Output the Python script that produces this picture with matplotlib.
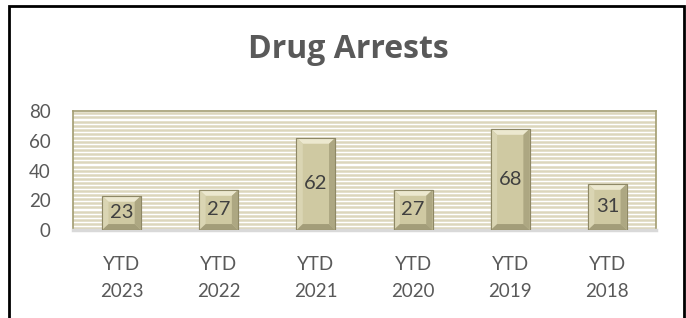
import numpy as np
import matplotlib.pyplot as plt
from matplotlib.patches import Rectangle, Polygon

categories = ["YTD\n2023", "YTD\n2022", "YTD\n2021", "YTD\n2020", "YTD\n2019", "YTD\n2018"]
arrests = [23, 27, 62, 27, 68, 31]
yticks = [0, 20, 40, 60, 80]

plt.rcParams['font.family'] = ['Lato', 'DejaVu Sans']
text_gray = "#595959"

fig = plt.figure(figsize=(6.86, 3.18), dpi=100)
fig.patches.append(Rectangle((9 / 686, -0.05), 675 / 686, 1 - 6 / 318 + 0.05,
                             transform=fig.transFigure, fill=False,
                             edgecolor="black", linewidth=2))
fig.text(348 / 686, 1 - 50 / 318, "Drug Arrests", ha="center", va="center",
         fontsize=23, fontweight="bold", color=text_gray,
         family=["Open Sans", "DejaVu Sans"])

ax = fig.add_axes([73 / 686, 88 / 318, 583 / 686, 119 / 318])
x = np.arange(len(arrests))

# striped background
for yy in np.arange(1.4, 80, 2.75):
    ax.axhline(yy, color="#DCD6BC", linewidth=1.8, zorder=0)

bars = ax.bar(x, arrests, width=0.4, color="#CFC9A2", edgecolor="#9C9674",
              linewidth=0.8, zorder=3)

# bevel effect
bx, by = 0.065, 4.0
for b in bars:
    x0, y0, w, h = b.get_x(), b.get_y(), b.get_width(), b.get_height()
    x1, y1 = x0 + w, y0 + h
    ix0, ix1, iy0, iy1 = x0 + bx, x1 - bx, y0 + by, y1 - by
    ax.add_patch(Polygon([(x0, y1), (x1, y1), (ix1, iy1), (ix0, iy1)],
                         facecolor="#ECE8CF", edgecolor="none", zorder=4))
    ax.add_patch(Polygon([(x0, y0), (x0, y1), (ix0, iy1), (ix0, iy0)],
                         facecolor="#DAD5B3", edgecolor="none", zorder=4))
    ax.add_patch(Polygon([(x1, y0), (x1, y1), (ix1, iy1), (ix1, iy0)],
                         facecolor="#ADA782", edgecolor="none", zorder=4))
    ax.add_patch(Polygon([(x0, y0), (x1, y0), (ix1, iy0), (ix0, iy0)],
                         facecolor="#A39D79", edgecolor="none", zorder=4))
    ax.add_patch(Rectangle((x0, y0), w, h, fill=False, edgecolor="#8E8866",
                           linewidth=0.8, zorder=5))

for xi, v in zip(x, arrests):
    ax.text(xi, v / 2, str(v), ha="center", va="center", fontsize=14.5,
            color="#404040", zorder=6)

ax.set_xlim(-0.5, len(arrests) - 0.5)
ax.set_ylim(0, 80)
ax.set_yticks(yticks)
ax.set_xticks(x)
ax.set_xticklabels(categories, fontsize=13.5, color=text_gray, linespacing=1.7)
ax.tick_params(axis="y", labelsize=13.5, labelcolor=text_gray, length=0, pad=16)
ax.tick_params(axis="x", length=0, pad=19)

for side in ["left", "top", "right"]:
    ax.spines[side].set_color("#A39D72")
    ax.spines[side].set_linewidth(1.2)
ax.spines["bottom"].set_color("#D9D9D9")
ax.spines["bottom"].set_linewidth(2.5)

fig.savefig("out.png", dpi=100)
